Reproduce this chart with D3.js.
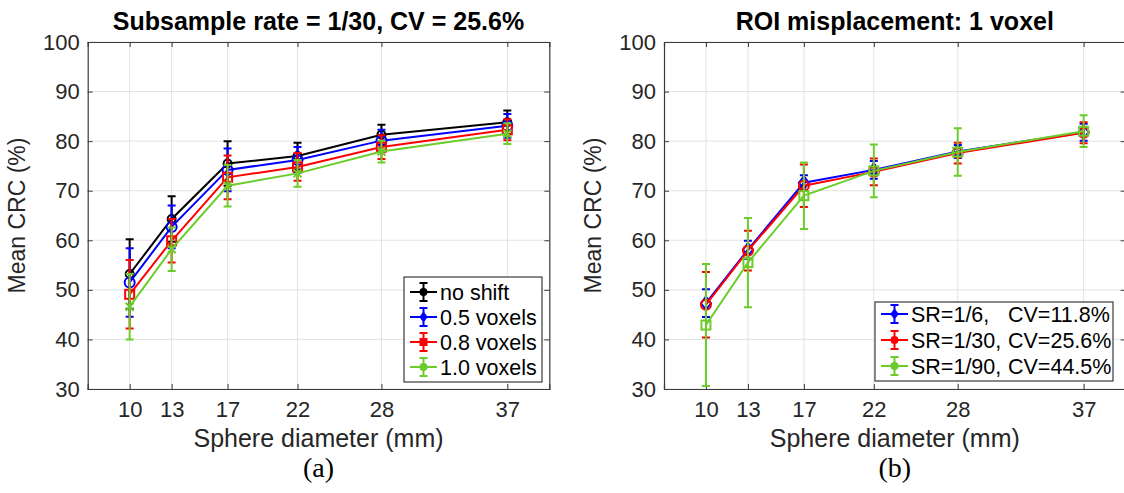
<!DOCTYPE html>
<html>
<head>
<meta charset="utf-8">
<script src="https://cdn.jsdelivr.net/npm/d3@7"></script>
<style>
body{margin:0;background:#fff;}
svg{display:block;font-family:"Liberation Sans",Arial,sans-serif;}
</style>
</head>
<body>
<svg id="chart" width="1124" height="493"></svg>
<script>
// sphere diameters (mm) and tick labels
var diam = [10, 13, 17, 22, 28, 37];
var yTicks = [30, 40, 50, 60, 70, 80, 90, 100];

// panel (a): ROI shifts, SR=1/30
var shiftNames = ["no shift", "0.5 voxels", "0.8 voxels", "1.0 voxels"];
var noShift    = [53.2, 64.3, 75.5, 77.0, 81.3, 83.8];
var noShiftErr = [7.0, 4.6, 4.5, 2.7, 2.0, 2.4];
var half       = [51.5, 62.7, 74.2, 76.2, 80.1, 83.1];
var halfErr    = [6.9, 4.3, 4.3, 2.6, 2.2, 2.4];
var point8     = [49.1, 59.9, 72.7, 74.8, 78.8, 82.3];
var point8Err  = [6.9, 4.4, 4.4, 2.8, 2.4, 2.1];
var one        = [46.6, 58.2, 71.0, 73.5, 77.9, 81.5];
var oneErr     = [6.6, 4.4, 4.2, 2.7, 2.2, 2.1];

// panel (b): misplacement 1 voxel, subsample rates
var srNames = ["SR=1/6,", "SR=1/30,", "SR=1/90,"];
var cvNames = ["CV=11.8%", "CV=25.6%", "CV=44.5%"];
var sr6     = [47.3, 58.1, 71.6, 74.2, 77.9, 81.8];
var sr6Err  = [2.8, 1.8, 1.5, 1.8, 1.3, 1.7];
var sr30    = [47.0, 57.9, 71.0, 73.8, 77.6, 81.7];
var sr30Err = [6.6, 4.0, 4.3, 2.7, 2.1, 2.1];
var sr90    = [42.9, 55.5, 69.0, 74.0, 77.8, 82.0];
var sr90Err = [12.3, 9.0, 6.7, 5.3, 4.8, 3.2];

var GREEN = "#6ccd2a";
var svg = d3.select("#chart");

function marker(g, type, x, y, col, s, filled){
  var f = filled ? col : "none";
  if(type == "circle"){
    g.append("circle").attr("cx",x).attr("cy",y).attr("r",s)
      .attr("fill",f).attr("stroke",col).attr("stroke-width",2);
  } else if(type == "square"){
    g.append("rect").attr("x",x-s).attr("y",y-s).attr("width",2*s).attr("height",2*s)
      .attr("fill",f).attr("stroke",col).attr("stroke-width",2);
  } else if(type == "diamond"){
    g.append("path").attr("d",`M${x},${y-s*1.3}L${x+s},${y}L${x},${y+s*1.3}L${x-s},${y}Z`)
      .attr("fill",f).attr("stroke",col).attr("stroke-width",2);
  } else if(type == "x"){
    g.append("path").attr("d",`M${x-s},${y-s}L${x+s},${y+s}M${x-s},${y+s}L${x+s},${y-s}`)
      .attr("stroke",col).attr("stroke-width",2);
  }
}

function drawPanel(left, title, series, sub){
  var top = 42, bottom = 389, w = 461.6;
  var x = d3.scaleLinear().domain([7, 40]).range([left, left + w]);
  var y = d3.scaleLinear().domain([30, 100]).range([bottom, top]);
  var g = svg.append("g");

  // grid
  g.selectAll(".gx").data(diam).enter().append("line")
    .attr("x1",d=>x(d)).attr("x2",d=>x(d)).attr("y1",top).attr("y2",bottom)
    .attr("stroke","#e3e3e3").attr("stroke-width",1);
  g.selectAll(".gy").data(yTicks).enter().append("line")
    .attr("x1",left).attr("x2",left+w).attr("y1",d=>y(d)).attr("y2",d=>y(d))
    .attr("stroke","#e3e3e3").attr("stroke-width",1);

  // axes (MATLAB-like box with inward ticks)
  var xa = g.append("g").attr("transform",`translate(0,${bottom})`)
    .call(d3.axisBottom(x).tickValues(diam).tickSize(-5).tickPadding(12));
  var xt = g.append("g").attr("transform",`translate(0,${top})`)
    .call(d3.axisTop(x).tickValues(diam).tickSize(-5).tickFormat(""));
  var ya = g.append("g").attr("transform",`translate(${left},0)`)
    .call(d3.axisLeft(y).tickValues(yTicks).tickSize(-5).tickPadding(8));
  var yr = g.append("g").attr("transform",`translate(${left+w},0)`)
    .call(d3.axisRight(y).tickValues(yTicks).tickSize(-5).tickFormat(""));
  [xa, xt, ya, yr].forEach(function(a){
    a.selectAll(".domain").attr("stroke","#3a3a3a").attr("stroke-width",1.2);
    a.selectAll(".tick line").attr("stroke","#3a3a3a");
    a.selectAll("text").attr("font-size",22).attr("fill","#262626")
      .attr("font-family","Liberation Sans, Arial, sans-serif");
  });

  // series: line, error bars, markers
  series.forEach(function(s){
    var sg = g.append("g");
    var pts = diam.map((d,i)=>[x(d), y(s.v[i])]);
    sg.append("path").attr("d", d3.line()(pts))
      .attr("fill","none").attr("stroke",s.c).attr("stroke-width",2);
    diam.forEach(function(d,i){
      var cx = x(d), y0 = y(s.v[i]-s.e[i]), y1 = y(s.v[i]+s.e[i]);
      sg.append("path").attr("d",`M${cx},${y0}V${y1}M${cx-4},${y0}H${cx+4}M${cx-4},${y1}H${cx+4}`)
        .attr("stroke",s.c).attr("stroke-width",2).attr("fill","none");
      marker(sg, s.m, cx, y(s.v[i]), s.c, s.ms, false);
    });
  });

  // title and labels
  svg.append("text").attr("x",left+w/2).attr("y",30).attr("text-anchor","middle")
    .attr("font-size",25).attr("font-weight","bold").attr("fill","#000").text(title);
  svg.append("text").attr("transform",`translate(${left-63},${(top+bottom)/2}) rotate(-90)`)
    .attr("text-anchor","middle").attr("font-size",23).attr("fill","#262626").text("Mean CRC (%)");
  svg.append("text").attr("x",left+w/2).attr("y",447).attr("text-anchor","middle")
    .attr("font-size",25).attr("fill","#262626").text("Sphere diameter (mm)");
  svg.append("text").attr("x",left+w/2).attr("y",477).attr("text-anchor","middle")
    .attr("font-size",28).attr("font-family","Liberation Serif, Times New Roman, serif")
    .attr("fill","#000").text(sub);
  return g;
}

function legend(g, bx, by, bw, bh, rowY, series, labels, cvx){
  var lg = g.append("g");
  lg.append("rect").attr("x",bx).attr("y",by).attr("width",bw).attr("height",bh)
    .attr("fill","#fff").attr("stroke","#3a3a3a").attr("stroke-width",1.2);
  series.forEach(function(s,i){
    var yy = by + rowY[i], x0 = bx + 6, x1 = bx + 33, cx = (x0+x1)/2;
    lg.append("path").attr("d",`M${x0},${yy}H${x1}M${cx},${yy-9}V${yy+9}M${cx-4},${yy-9}H${cx+4}M${cx-4},${yy+9}H${cx+4}`)
      .attr("stroke",s.c).attr("stroke-width",2).attr("fill","none");
    marker(lg, s.lm, cx, yy, s.c, 3, true);
    lg.append("text").attr("x",bx+36).attr("y",yy).attr("dy","0.35em")
      .attr("font-size",21.5).attr("fill","#000").text(labels[i]);
    if(cvx){
      lg.append("text").attr("x",cvx).attr("y",yy).attr("dy","0.35em")
        .attr("font-size",21.5).attr("fill","#000").text(cvNames[i]);
    }
  });
}

var seriesA = [
  {v:noShift, e:noShiftErr, c:"#000000", m:"circle", ms:4, lm:"circle"},
  {v:half,    e:halfErr,    c:"#0000ff", m:"circle", ms:5, lm:"diamond"},
  {v:point8,  e:point8Err,  c:"#ff0000", m:"square", ms:4.5, lm:"square"},
  {v:one,     e:oneErr,     c:GREEN,     m:"x",      ms:4, lm:"circle"}
];
var seriesB = [
  {v:sr6,  e:sr6Err,  c:"#0000ff", m:"diamond", ms:5, lm:"diamond"},
  {v:sr30, e:sr30Err, c:"#ff0000", m:"circle",  ms:5, lm:"circle"},
  {v:sr90, e:sr90Err, c:GREEN,     m:"square",  ms:4.5, lm:"circle"}
];

var gA = drawPanel(87.7, "Subsample rate = 1/30, CV = 25.6%", seriesA, "(a)");
legend(gA, 404, 277, 138, 105, [15, 40, 65, 90], seriesA, shiftNames, null);

var gB = drawPanel(664, "ROI misplacement: 1 voxel", seriesB, "(b)");
legend(gB, 875, 302, 238, 79, [12, 38, 64], seriesB, srNames, 1008);
</script>
</body>
</html>
